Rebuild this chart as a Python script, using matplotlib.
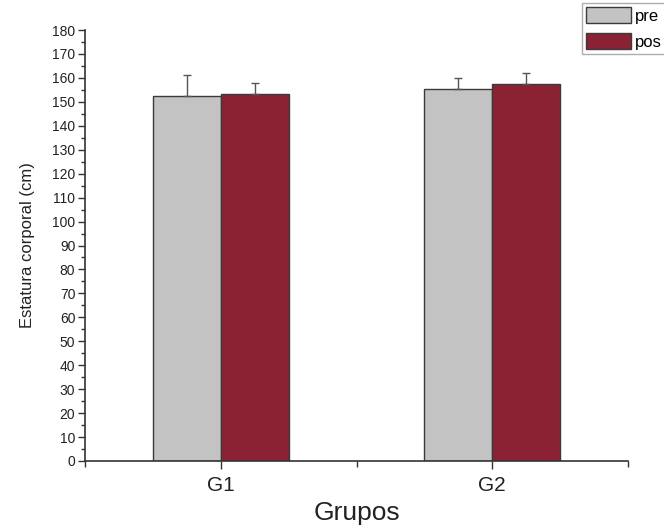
import numpy as np
import matplotlib
matplotlib.use('Agg')
import matplotlib.pyplot as plt
from matplotlib.ticker import MultipleLocator

plt.rcParams['font.family'] = ['Liberation Sans', 'DejaVu Sans']

groups = ['G1', 'G2']
pre = [152.4, 155.3]
pos = [153.2, 157.4]
pre_err = [8.8, 4.6]
pos_err = [4.6, 4.6]

fig = plt.figure(figsize=(6.64, 5.30), dpi=100)
ax = fig.add_axes([85 / 664, 69 / 530, 543 / 664, 431 / 530])

x = np.arange(1, len(groups) + 1)
w = 0.25
err_style = dict(ecolor='#555555', elinewidth=1.0, capsize=3, capthick=1.0)
ax.bar(x - w / 2, pre, w, color='#c3c3c3', edgecolor='#3a3a3a', linewidth=1.0,
       yerr=[np.zeros(2), pre_err], error_kw=err_style, label='pre', zorder=2)
ax.bar(x + w / 2, pos, w, color='#8a2233', edgecolor='#3a3a3a', linewidth=1.0,
       yerr=[np.zeros(2), pos_err], error_kw=err_style, label='pos', zorder=2)

ax.set_xlim(0.5, 2.5)
ax.set_ylim(0, 180)
ax.set_xticks(x)
ax.set_xticklabels(groups, fontsize=15, color='#222222')
ax.set_xticks([0.5, 1.5, 2.5], minor=True)
ax.yaxis.set_major_locator(MultipleLocator(10))
ax.yaxis.set_minor_locator(MultipleLocator(5))
ax.tick_params(axis='y', labelsize=10, colors='#333333', length=5, width=1.0, labelcolor='#222222', pad=2)
ax.tick_params(axis='y', which='minor', length=3, width=1.0, colors='#333333')
ax.tick_params(axis='x', which='major', length=6, width=1.0, colors='#333333', labelcolor='#222222', pad=5)
ax.tick_params(axis='x', which='minor', length=4, width=1.0, colors='#333333')

for side in ['top', 'right']:
    ax.spines[side].set_visible(False)
for side in ['left', 'bottom']:
    ax.spines[side].set_color('#333333')
    ax.spines[side].set_linewidth(1.2)

ax.set_ylabel('Estatura corporal (cm)', fontsize=12, color='#222222', labelpad=12)
ax.set_xlabel('Grupos', fontsize=19, color='#222222', labelpad=4)

fig.legend(loc='upper left', bbox_to_anchor=(582 / 664, 1 - 3 / 530), fontsize=12,
           frameon=True, fancybox=False, edgecolor='#999999', handlelength=2.7,
           handleheight=1.1, borderpad=0.25, labelspacing=0.55, handletextpad=0.2,
           borderaxespad=0)

fig.savefig('out.png', dpi=100)
